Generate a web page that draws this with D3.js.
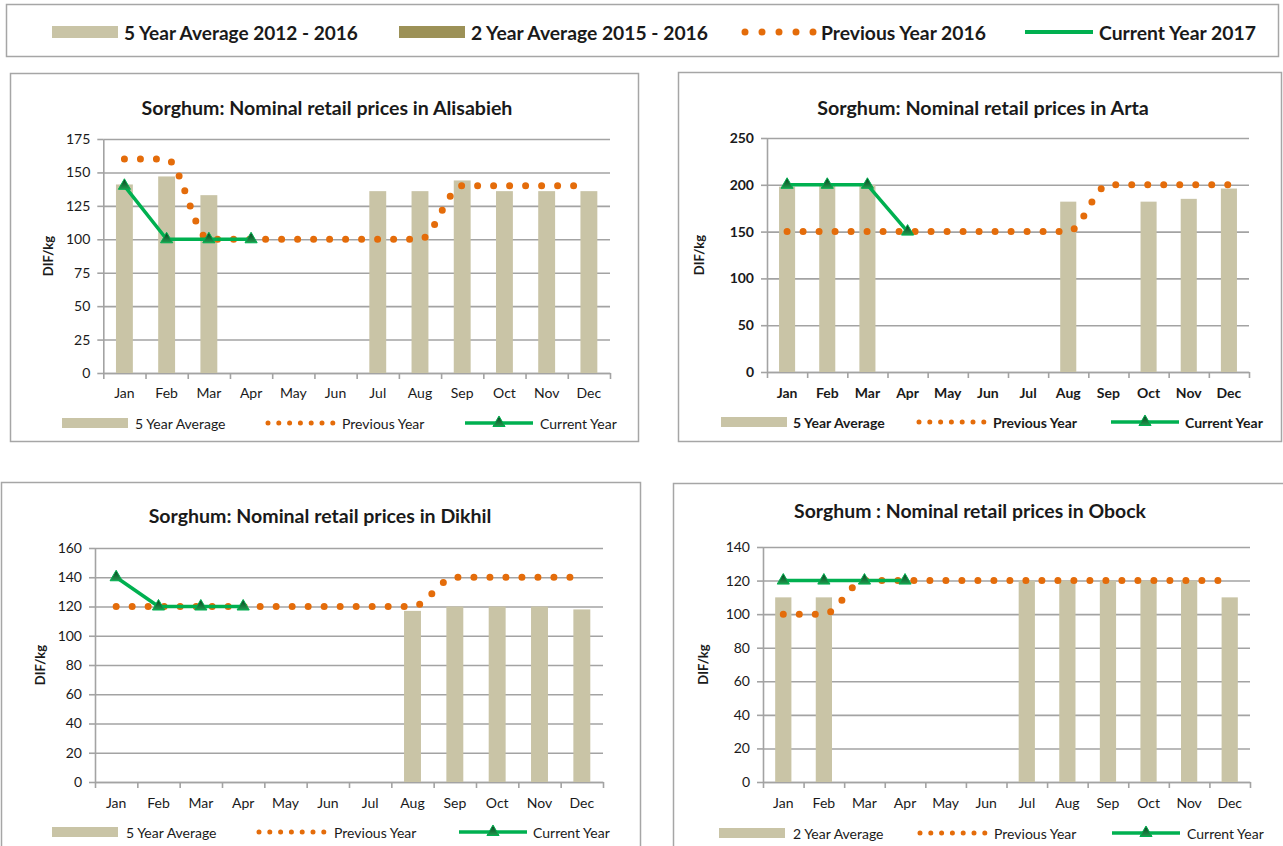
<!DOCTYPE html>
<html><head><meta charset="utf-8">
<script src="https://cdn.jsdelivr.net/npm/d3@7"></script>
<style>
body{margin:0;background:#fff;}
svg{display:block;font-family:Lato,"Open Sans",sans-serif;}
</style>
</head><body>
<svg id="c" width="1283" height="846"></svg>
<script>
// ---------- DATA ----------
const months = ["Jan","Feb","Mar","Apr","May","Jun","Jul","Aug","Sep","Oct","Nov","Dec"];
const topLegendLabels = ["5 Year Average 2012 - 2016","2 Year Average 2015 - 2016","Previous Year 2016","Current Year 2017"];
const seriesLabels = ["Previous Year","Current Year"];

const alisabiehTitle = "Sorghum: Nominal retail prices in Alisabieh";
const alisabiehAvgLabel = "5 Year Average";
const alisabiehAvg  = [141,147,133,null,null,null,136,136,144,136,136,136];
const alisabiehPrev = [160,160,100,100,100,100,100,100,140,140,140,140];
const alisabiehCurr = [140,100,100,100];
const alisabiehTicks = [0,25,50,75,100,125,150,175];

const artaTitle = "Sorghum: Nominal retail prices in Arta";
const artaAvgLabel = "5 Year Average";
const artaAvg  = [198,201,200,null,null,null,null,182,null,182,185,196];
const artaPrev = [150,150,150,150,150,150,150,150,200,200,200,200];
const artaCurr = [200,200,200,150];
const artaTicks = [0,50,100,150,200,250];

const dikhilTitle = "Sorghum: Nominal retail prices in Dikhil";
const dikhilAvgLabel = "5 Year Average";
const dikhilAvg  = [null,null,null,null,null,null,null,117,120,120,120,118];
const dikhilPrev = [120,120,120,120,120,120,120,120,140,140,140,140];
const dikhilCurr = [140,120,120,120];
const dikhilTicks = [0,20,40,60,80,100,120,140,160];

const obockTitle = "Sorghum : Nominal retail prices in Obock";
const obockAvgLabel = "2 Year Average";
const obockAvg  = [110,110,null,null,null,null,120,120,120,120,120,110];
const obockPrev = [100,100,120,120,120,120,120,120,120,120,120,120];
const obockCurr = [120,120,120,120];
const obockTicks = [0,20,40,60,80,100,120,140];

// ---------- STYLE ----------
const C_BAR = "#C9C4A6", C_BAR2 = "#9C9157", C_ORANGE = "#E46C0A", C_GREEN = "#00B050",
      C_GRID = "#A3A3A3", C_FRAME = "#A6A6A6", C_TEXT = "#1a1a1a";
const FS = "14px";

const svg = d3.select("#c");
const defs = svg.append("defs");
const grad = defs.append("linearGradient").attr("id","triG").attr("x1",0).attr("y1",0).attr("x2",0).attr("y2",1);
grad.append("stop").attr("offset","0%").attr("stop-color","#0a3d1c");
grad.append("stop").attr("offset","100%").attr("stop-color","#1f9e50");

function fitText(sel, target, base){
  sel.style("font-size", base+"px");
  const w = sel.node().getComputedTextLength();
  if (w>0) sel.style("font-size", (base*target/w).toFixed(2)+"px");
  return sel;
}

// ---------- TOP LEGEND ----------
const tl = svg.append("g");
tl.append("rect").attr("x",6.5).attr("y",4.5).attr("width",1272).attr("height",52)
  .attr("fill","none").attr("stroke",C_FRAME).attr("stroke-width",1.5);
const tlY = 32;
tl.append("rect").attr("x",52).attr("y",tlY-6).attr("width",66).attr("height",12).attr("fill",C_BAR);
tl.append("rect").attr("x",399).attr("y",tlY-6).attr("width",66).attr("height",12).attr("fill",C_BAR2);
tl.append("line").attr("x1",745).attr("x2",813.5).attr("y1",tlY).attr("y2",tlY)
  .attr("stroke",C_ORANGE).attr("stroke-width",7).attr("stroke-linecap","round").attr("stroke-dasharray","0 17");
tl.append("line").attr("x1",1025).attr("x2",1093).attr("y1",tlY).attr("y2",tlY)
  .attr("stroke",C_GREEN).attr("stroke-width",4);
const tlText = [[124,234],[471,237],[821,165],[1099,157]];
topLegendLabels.forEach((t,i)=>{
  const s = tl.append("text").attr("x",tlText[i][0]).attr("y",tlY).attr("dominant-baseline","central")
    .attr("font-weight","bold").attr("fill",C_TEXT).text(t);
  fitText(s, tlText[i][1], 17);
});

// ---------- CHARTS ----------
const charts = [
  {title:alisabiehTitle, avgLabel:alisabiehAvgLabel, avg:alisabiehAvg, prev:alisabiehPrev, curr:alisabiehCurr, ticks:alisabiehTicks,
   frame:[10,73,628,368], plot:[103.3,139,610,373], titleX:327, titleY:107, titleW:371, yTitleX:48,
   monthY:393, legY:423, leg:[62,135,268,342,465,540], bold:false},
  {title:artaTitle, avgLabel:artaAvgLabel, avg:artaAvg, prev:artaPrev, curr:artaCurr, ticks:artaTicks,
   frame:[678,72,603,369], plot:[767,138,1249,372], titleX:983, titleY:107, titleW:332, yTitleX:699,
   monthY:393, legY:422, leg:[721,793,919,993,1111,1185], bold:true},
  {title:dikhilTitle, avgLabel:dikhilAvgLabel, avg:dikhilAvg, prev:dikhilPrev, curr:dikhilCurr, ticks:dikhilTicks,
   frame:[1,482,639,380], plot:[95,548,603,782], titleX:320, titleY:515, titleW:343, yTitleX:40,
   monthY:803, legY:832, leg:[52,126,259,334,459,533], bold:false},
  {title:obockTitle, avgLabel:obockAvgLabel, avg:obockAvg, prev:obockPrev, curr:obockCurr, ticks:obockTicks,
   frame:[673,483,620,380], plot:[763,547,1250,782], titleX:970, titleY:510, titleW:352, yTitleX:703,
   monthY:803, legY:833, leg:[719,793,920,994,1112,1187], bold:false}
];

charts.forEach(drawChart);

function drawChart(cfg){
  const g = svg.append("g");
  const fw = cfg.bold ? "bold" : "normal";
  const [fx,fy,fwid,fh] = cfg.frame;
  g.append("rect").attr("x",fx+0.5).attr("y",fy+0.5).attr("width",fwid).attr("height",fh)
    .attr("fill","#fff").attr("stroke",C_FRAME).attr("stroke-width",1.5);

  const t = g.append("text").attr("x",cfg.titleX).attr("y",cfg.titleY).attr("text-anchor","middle")
    .attr("dominant-baseline","central").attr("font-weight","bold").attr("fill",C_TEXT).text(cfg.title);
  fitText(t, cfg.titleW, 17);

  const [x0,yTop,x1,yBot] = cfg.plot;
  const ymax = cfg.ticks[cfg.ticks.length-1];
  const x = d3.scaleBand().domain(months).range([x0,x1]).paddingInner(0.6).paddingOuter(0.3);
  const xc = m => x(m) + x.bandwidth()/2;
  const xEdge = d3.scaleLinear().domain([0,months.length]).range([x0,x1]);
  const y = d3.scaleLinear().domain([0,ymax]).range([yBot,yTop]);

  // gridlines
  const grid = g.append("g").attr("transform",`translate(${x0},0)`)
    .call(d3.axisLeft(y).tickValues(cfg.ticks).tickSize(-(x1-x0)).tickFormat(""));
  grid.select(".domain").remove();
  grid.selectAll("line").attr("stroke",C_GRID).attr("stroke-width",1.6);

  // y axis
  const ya = g.append("g").attr("transform",`translate(${x0},0)`)
    .call(d3.axisLeft(y).tickValues(cfg.ticks).tickSize(6).tickPadding(7).tickSizeOuter(0));
  ya.select(".domain").attr("stroke",C_GRID).attr("stroke-width",1.6);
  ya.selectAll("line").attr("stroke",C_GRID).attr("stroke-width",1.6);
  ya.selectAll("text").attr("font-size",FS).attr("font-family","Lato").attr("font-weight",fw).attr("fill",C_TEXT);

  // x axis boundary ticks
  const xe = g.append("g").attr("transform",`translate(0,${yBot})`)
    .call(d3.axisBottom(xEdge).tickValues(d3.range(months.length+1)).tickSize(6).tickFormat("").tickSizeOuter(0));
  xe.select(".domain").attr("stroke",C_GRID).attr("stroke-width",1.6);
  xe.selectAll("line").attr("stroke",C_GRID).attr("stroke-width",1.6);
  // month labels
  const xa = g.append("g").attr("transform",`translate(0,${yBot})`)
    .call(d3.axisBottom(x).tickSize(0).tickPadding(cfg.monthY - yBot - 5));
  xa.select(".domain").remove();
  xa.selectAll("text").attr("font-size",FS).attr("font-family","Lato").attr("font-weight",fw).attr("fill",C_TEXT);

  // y title
  g.append("text").attr("transform",`translate(${cfg.yTitleX},${(yTop+yBot)/2}) rotate(-90)`)
    .attr("text-anchor","middle").attr("dominant-baseline","central")
    .attr("font-weight","bold").attr("font-size","13px").attr("fill",C_TEXT).text("DIF/kg");

  // bars
  const barData = months.map((m,i)=>({m, v:cfg.avg[i]})).filter(d=>d.v!=null);
  g.append("g").selectAll("rect").data(barData).join("rect")
    .attr("x",d=>x(d.m)).attr("width",x.bandwidth())
    .attr("y",d=>y(d.v)).attr("height",d=>yBot-y(d.v)).attr("fill",C_BAR);

  // previous year (smoothed, round dots)
  const prevData = months.map((m,i)=>({m, v:cfg.prev[i]})).filter(d=>d.v!=null);
  g.append("path").datum(prevData)
    .attr("d", d3.line().x(d=>xc(d.m)).y(d=>y(d.v)).curve(d3.curveMonotoneX))
    .attr("fill","none").attr("stroke",C_ORANGE).attr("stroke-width",7)
    .attr("stroke-linecap","round").attr("stroke-dasharray","0 16");

  // current year
  const currData = cfg.curr.map((v,i)=>({m:months[i], v})).filter(d=>d.v!=null);
  g.append("path").datum(currData)
    .attr("d", d3.line().x(d=>xc(d.m)).y(d=>y(d.v)))
    .attr("fill","none").attr("stroke",C_GREEN).attr("stroke-width",3.5).attr("stroke-linejoin","round");
  const tri = d3.symbol(d3.symbolTriangle).size(64);
  g.append("g").selectAll("path").data(currData).join("path")
    .attr("transform",d=>`translate(${xc(d.m)},${y(d.v)})`).attr("d",tri)
    .attr("fill","url(#triG)").attr("stroke",C_GREEN).attr("stroke-width",1);

  // legend
  const L = cfg.leg, ly = cfg.legY;
  g.append("rect").attr("x",L[0]).attr("y",ly-5).attr("width",66).attr("height",10).attr("fill",C_BAR);
  g.append("line").attr("x1",L[2]).attr("x2",L[2]+66).attr("y1",ly).attr("y2",ly)
    .attr("stroke",C_ORANGE).attr("stroke-width",5).attr("stroke-linecap","round").attr("stroke-dasharray","0 10.8");
  g.append("line").attr("x1",L[4]).attr("x2",L[4]+68).attr("y1",ly).attr("y2",ly)
    .attr("stroke",C_GREEN).attr("stroke-width",3.5);
  g.append("path").attr("transform",`translate(${L[4]+34},${ly})`).attr("d",tri)
    .attr("fill","url(#triG)").attr("stroke",C_GREEN).attr("stroke-width",1);
  [cfg.avgLabel, seriesLabels[0], seriesLabels[1]].forEach((txt,i)=>{
    g.append("text").attr("x",L[1+2*i]).attr("y",ly).attr("dominant-baseline","central")
      .attr("font-size",FS).attr("font-weight",fw).attr("fill",C_TEXT).text(txt);
  });
}
</script>
</body></html>
